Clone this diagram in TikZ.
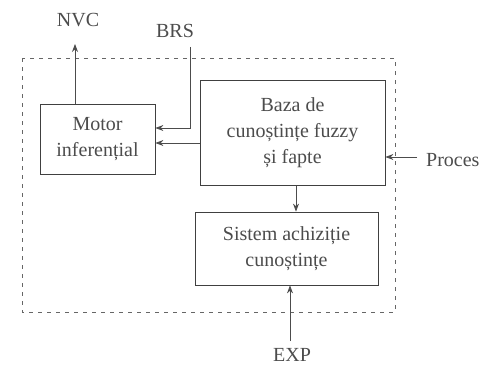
\documentclass[tikz,border=0pt]{standalone}
\usepackage{fontspec}
\setmainfont{Liberation Serif}
\usetikzlibrary{arrows.meta}
\begin{document}
\begin{tikzpicture}[x=1pt,y=-1pt,
  box/.style={draw=black!75,line width=0.8pt,minimum width=0pt,minimum height=0pt,inner sep=0pt},
  lbl/.style={font=\fontsize{20}{26}\selectfont,text=black!70,align=center},
  conn/.style={draw=black!70,line width=0.8pt,-{Stealth[length=8pt,width=6pt]}},
  frame/.style={draw=black!60,line width=0.8pt,dash pattern=on 4pt off 5pt}]
\useasboundingbox (0,0) rectangle (484,369);
\draw[frame] (22,58) rectangle (395,312);
\node[box,minimum width=115pt,minimum height=70pt] (motor) at (97.5,139) {};
\node[lbl] at (motor) {Motor\\inferențial};
\node[box,minimum width=185pt,minimum height=105pt] (baza) at (292.5,133) {};
\node[lbl] at (baza) {Baza de\\cunoștințe fuzzy\\și fapte};
\node[box,minimum width=183pt,minimum height=73pt] (sist) at (286.5,248.5) {};
\node[lbl] at (sist) {Sistem achiziție\\cunoștințe};
\node[lbl] (nvc) at (78,20) {NVC};
\node[lbl] (brs) at (175,31) {BRS};
\node[lbl,anchor=east] (proces) at (483,160) {Proces};
\node[lbl] (exp) at (292,355) {EXP};
\coordinate (nvcend) at (75,44);
\coordinate (brsstart) at (190,47);
\coordinate (procstart) at (417,157);
\coordinate (expstart) at (290,341);
\coordinate (brsin) at (155,128);
\coordinate (bazain) at (155,143);
\draw[conn] (motor.north -| nvcend) -- (nvcend);
\draw[conn] (brsstart) |- (motor.east |- brsin);
\draw[conn] (baza.west |- bazain) -- (motor.east |- bazain);
\draw[conn] (procstart) -- (baza.east |- procstart);
\draw[conn] (baza.south -| 296,0) -- (sist.north -| 296,0);
\draw[conn] (expstart) -- (sist.south -| expstart);
\end{tikzpicture}
\end{document}
